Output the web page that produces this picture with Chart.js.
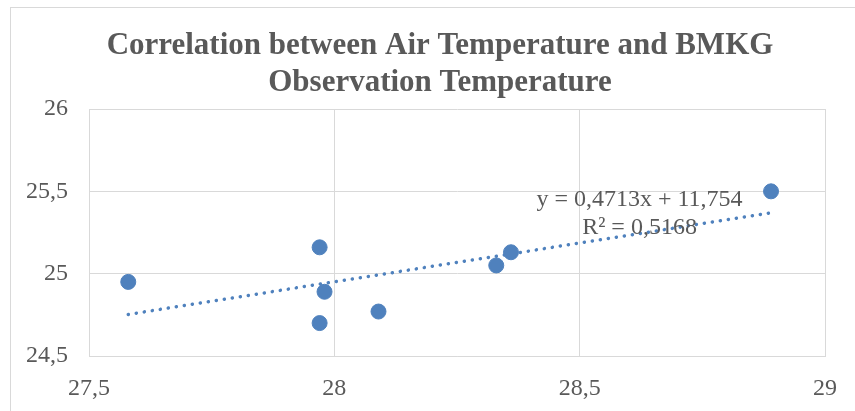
<!DOCTYPE html>
<html lang="en">
<head>
    <meta charset="UTF-8">
    <title>Correlation between Air Temperature and BMKG Observation Temperature</title>
    <style>
        body {
            margin: 0;
            padding: 0;
            background: #fff;
        }
        .frame {
            position: absolute;
            left: 10px;
            top: 7px;
            width: 860px;
            height: 420px;
            border: 1px solid #d9d9d9;
        }
        .wrap {
            position: absolute;
            left: 0;
            top: 0;
            width: 855px;
            height: 411px;
        }
    </style>
</head>
<body>
    <div class="frame"></div>
    <div class="wrap"><canvas id="chart"></canvas></div>
    <script src="https://cdn.jsdelivr.net/npm/chart.js"></script>
    <script>
        // data
        const airTemp  = [27.58, 27.97, 27.98, 27.97, 28.09, 28.33, 28.36, 28.89];
        const bmkgTemp = [24.95, 25.16, 24.89, 24.70, 24.77, 25.05, 25.13, 25.50];
        const slope = 0.4713;
        const intercept = 11.754;
        const rSquared = 0.5168;
        const xTicks = [27.5, 28, 28.5, 29];
        const yTicks = [24.5, 25, 25.5, 26];

        const titleLines = ['Correlation between Air Temperature and BMKG', 'Observation Temperature'];
        const grey = '#595959';
        const blue = '#4f81bd';
        const fmt = v => String(v).replace('.', ',');

        const xMin = Math.min(...airTemp), xMax = Math.max(...airTemp);
        const trend = [
            { x: xMin, y: slope * xMin + intercept },
            { x: xMax, y: slope * xMax + intercept }
        ];

        // title is centred on the whole frame, not on the canvas box chart.js would use
        const frameTitle = {
            id: 'frameTitle',
            afterDraw(chart) {
                const { ctx } = chart;
                ctx.save();
                ctx.fillStyle = grey;
                ctx.font = 'bold 31px "Liberation Serif"';
                ctx.textAlign = 'center';
                ctx.textBaseline = 'middle';
                titleLines.forEach((line, i) => ctx.fillText(line, 440, 46 + i * 37));
                ctx.restore();
            }
        };

        // equation label, placed in data space near the right end of the trend line
        const equationLabel = {
            id: 'equationLabel',
            afterDatasetsDraw(chart) {
                const { ctx, scales } = chart;
                const x = scales.x.getPixelForValue(28.622);
                const y1 = scales.y.getPixelForValue(25.447);
                const y2 = scales.y.getPixelForValue(25.277);
                ctx.save();
                ctx.fillStyle = grey;
                ctx.font = '24px "Liberation Serif"';
                ctx.textAlign = 'center';
                ctx.textBaseline = 'middle';
                ctx.fillText('y = ' + fmt(slope) + 'x + ' + fmt(intercept), x, y1);
                ctx.fillText('R² = ' + fmt(rSquared), x, y2);
                ctx.restore();
            }
        };

        new Chart(document.getElementById('chart'), {
            type: 'scatter',
            data: {
                datasets: [
                    {
                        label: 'BMKG',
                        data: airTemp.map((x, i) => ({ x: x, y: bmkgTemp[i] })),
                        backgroundColor: blue,
                        borderColor: blue,
                        pointRadius: 7.5,
                        pointHoverRadius: 7.5
                    },
                    {
                        label: 'Linear',
                        type: 'line',
                        data: trend,
                        borderColor: blue,
                        borderWidth: 3.5,
                        borderDash: [0.1, 8],
                        borderCapStyle: 'round',
                        pointRadius: 0,
                        fill: false
                    }
                ]
            },
            options: {
                responsive: true,
                maintainAspectRatio: false,
                animation: false,
                layout: { padding: { left: 0, right: 29, top: 109, bottom: 0 } },
                plugins: {
                    legend: { display: false },
                    tooltip: { enabled: false },
                    title: { display: false }
                },
                scales: {
                    x: {
                        type: 'linear',
                        min: 27.5,
                        max: 29,
                        afterBuildTicks: s => { s.ticks = xTicks.map(v => ({ value: v })); },
                        afterFit: s => { s.height = 55; },
                        grid: { color: '#d9d9d9', drawTicks: false },
                        border: { color: '#d9d9d9' },
                        ticks: {
                            color: grey,
                            padding: 18,
                            font: { family: 'Liberation Serif', size: 24 },
                            callback: v => fmt(v)
                        }
                    },
                    y: {
                        min: 24.5,
                        max: 26,
                        afterBuildTicks: s => { s.ticks = yTicks.map(v => ({ value: v })); },
                        afterFit: s => { s.width = 89; },
                        grid: { color: '#d9d9d9', drawTicks: false },
                        border: { color: '#d9d9d9' },
                        ticks: {
                            color: grey,
                            padding: 21,
                            font: { family: 'Liberation Serif', size: 24 },
                            callback: v => fmt(v)
                        }
                    }
                }
            },
            plugins: [frameTitle, equationLabel]
        });
    </script>
</body>
</html>
